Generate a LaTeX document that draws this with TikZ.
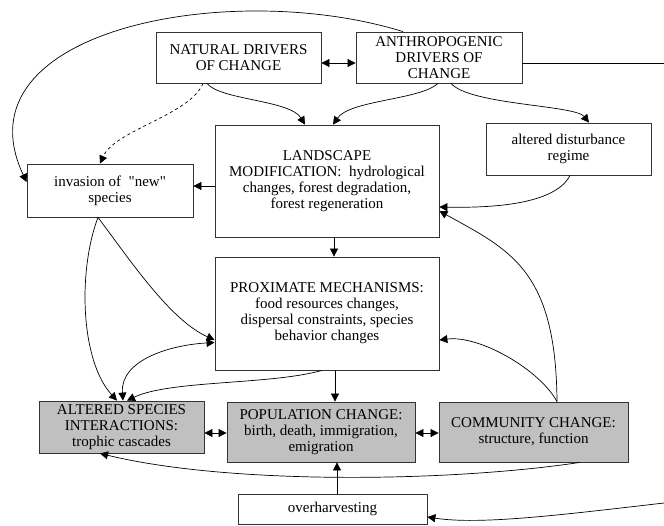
\documentclass[tikz,border=0pt]{standalone}
\usepackage{fontspec}
\setmainfont[Ligatures=TeXOff]{Liberation Serif}
\usepackage{tikz}
\usetikzlibrary{arrows.meta,positioning,calc}
\definecolor{boxgrey}{RGB}{192,192,192}

\begin{document}
\begin{tikzpicture}[x=1pt,y=-1pt,
  box/.style={draw=black!80,line width=0.8pt,align=center,inner sep=0pt,
              font=\fontsize{15}{16}\selectfont},
  greybox/.style={box,fill=boxgrey},
  arr/.style={-{Triangle[length=8pt,width=8pt]},line width=0.7pt},
  both/.style={{Triangle[length=8pt,width=8pt]}-{Triangle[length=8pt,width=8pt]},line width=0.7pt}]
\useasboundingbox (0,0) rectangle (664,525);

% Drivers
\node[box,minimum width=165pt,minimum height=51pt] (nat) at (238.5,57.5) {NATURAL DRIVERS\\OF CHANGE};
\node[box,minimum width=166pt,minimum height=51pt] (anth) at (439,57.5) {ANTHROPOGENIC\\DRIVERS OF\\CHANGE};

% Landscape level
\node[box,minimum width=224pt,minimum height=112pt] (land) at (327,181)
  {LANDSCAPE\\MODIFICATION:\ \ hydrological\\changes, forest degradation,\\forest regeneration};
\node[box,minimum width=165pt,minimum height=52pt] (dist) at (568.5,149) {altered disturbance\\regime};
\node[box,minimum width=166pt,minimum height=53pt] (inv) at (110,190.5) {invasion of \ "new"\\species};

% Mechanisms
\node[box,minimum width=224pt,minimum height=113pt] (prox) at (327,313.5)
  {PROXIMATE MECHANISMS:\\food resources changes,\\dispersal constraints, species\\behavior changes};

% Responses
\node[greybox,minimum width=165pt,minimum height=52pt] (alt) at (121.5,427) {ALTERED SPECIES\\INTERACTIONS:\\trophic cascades};
\node[greybox,minimum width=188pt,minimum height=60pt] (pop) at (321,432) {POPULATION CHANGE:\\birth, death, immigration,\\emigration};
\node[greybox,minimum width=189pt,minimum height=60pt] (com) at (533.5,432) {COMMUNITY CHANGE:\\structure, function};
\node[box,minimum width=189pt,minimum height=30pt] (over) at (332.5,509) {overharvesting};

\coordinate (outR) at (664,63);
\coordinate (inR) at (664,503);

% Top connectors
\draw[both] ([yshift=-5.5pt]nat.east) -- ([yshift=-5.5pt]anth.west);
\draw[line width=0.7pt] ([yshift=-5.5pt]anth.east) -- (outR);
\draw[arr] ([xshift=-36pt]anth.north) .. controls (230,-22) and (-45,30) .. ([yshift=8.5pt]inv.west);
\draw[arr,dashed] ([xshift=-35.5pt]nat.south) .. controls (190,115) and (115,130) .. ([xshift=-10pt]inv.north);
\draw[arr] ([xshift=-31.5pt]nat.south) .. controls (220,100) and (290,100) .. ([xshift=-22pt]land.north);
\draw[arr] ([xshift=-1pt]anth.south) .. controls (420,100) and (350,100) .. ([xshift=6pt]land.north);
\draw[arr] ([xshift=12pt]anth.south) .. controls (470,105) and (575,105) .. ([xshift=20.5pt]dist.north);

% Middle connectors
\draw[arr] ([yshift=-5pt]land.west) -- ([yshift=-5pt]land.west -| inv.east);
\draw[arr] ([xshift=1.5pt]dist.south) .. controls (555,205) and (490,208) .. ([yshift=-26pt]land.east);
\draw[arr] ([xshift=23.5pt]com.north) .. controls (556,270) and (510,250) .. ([yshift=-30pt]land.east);
\draw[arr] ([xshift=23.5pt]com.north) .. controls (540,370) and (480,335) .. ([yshift=-26.5pt]prox.east);
\draw[arr] ([xshift=7pt]land.south) -- ([xshift=7pt]land.south |- prox.north);
\draw[arr] ([xshift=-12pt]inv.south) .. controls (78,270) and (80,360) .. ([xshift=-4.5pt]alt.north);
\draw[arr] ([xshift=-12pt]inv.south) .. controls (130,260) and (170,320) .. ([yshift=-26.5pt]prox.west);
\draw[both] ([xshift=1.5pt]alt.north) .. controls (120,360) and (170,345) .. ([yshift=-29pt]prox.west);
\draw[arr] ([xshift=-5pt]prox.south) .. controls (270,385) and (170,380) .. ([xshift=5.5pt]alt.north);
\draw[arr] ([xshift=8pt]prox.south) -- ([xshift=8pt]prox.south |- pop.north);

% Bottom connectors
\draw[both] ([yshift=-6pt]alt.east) -- ([yshift=-6pt]alt.east -| pop.west);
\draw[both] ([yshift=-1pt]pop.east) -- ([yshift=-1pt]pop.east -| com.west);
\draw[arr] ([xshift=46.5pt]com.south) .. controls (450,482) and (230,485) .. ([xshift=-21.5pt]alt.south);
\draw[arr] ([xshift=4.5pt]over.north) -- ([xshift=4.5pt]over.north |- pop.south);
\draw[arr] (inR) .. controls (560,515) and (480,525) .. ([yshift=-8pt]over.east);
\end{tikzpicture}
\end{document}
